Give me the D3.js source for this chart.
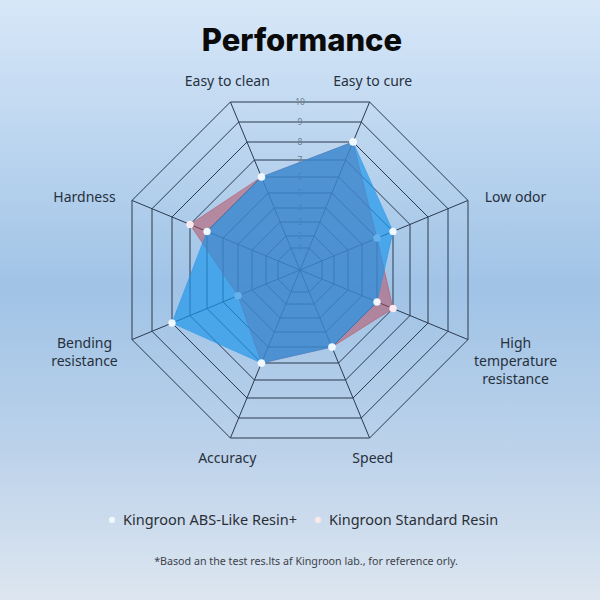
<!DOCTYPE html>
<html>
<head>
<meta charset="utf-8">
<script src="https://cdn.jsdelivr.net/npm/d3@7"></script>
<style>
  html, body { margin: 0; padding: 0; }
  body { width: 600px; height: 600px; overflow: hidden; }
</style>
</head>
<body>
<script>
// axis names, clockwise from the top-left spoke
const categories = ["Easy to clean", "Easy to cure", "Low odor", "High temperature resistance",
  "Speed", "Accuracy", "Bending resistance", "Hardness"];
const labelLines = [["Easy to clean"], ["Easy to cure"], ["Low odor"], ["High", "temperature", "resistance"],
  ["Speed"], ["Accuracy"], ["Bending", "resistance"], ["Hardness"]];
const seriesNames = ["Kingroon ABS-Like Resin+", "Kingroon Standard Resin"];
const absValues = [6, 8, 6, 5, 5, 6, 8, 6];
const standardValues = [6, 8, 5, 6, 5, 6, 4, 7];
const ticks = [1, 2, 3, 4, 5, 6, 7, 8, 9, 10];

const width = 600, height = 600;
const cx = 300, cy = 270;
const n = categories.length;

const svg = d3.select("body").append("svg")
    .attr("width", width)
    .attr("height", height)
    .style("font-family", "'Noto Sans', sans-serif");

// background gradient
const defs = svg.append("defs");
const grad = defs.append("linearGradient")
    .attr("id", "bg").attr("x1", 0).attr("y1", 0).attr("x2", 0).attr("y2", 1);
grad.append("stop").attr("offset", "0%").attr("stop-color", "#d7e7f8");
grad.append("stop").attr("offset", "48%").attr("stop-color", "#a0c3e6");
grad.append("stop").attr("offset", "75%").attr("stop-color", "#bcd2ea");
grad.append("stop").attr("offset", "100%").attr("stop-color", "#dde6f0");
svg.append("rect").attr("width", width).attr("height", height).attr("fill", "url(#bg)");

// title
svg.append("text")
    .attr("x", cx + 2).attr("y", 51)
    .attr("text-anchor", "middle")
    .style("font-family", "Inter, sans-serif")
    .style("font-weight", 800)
    .style("font-size", "31px")
    .attr("fill", "#0a0a0a")
    .text("Performance");

// the rings of the original are not evenly spaced; distance to each ring's flat edge
const apothem = d3.scaleLinear()
    .domain([0, 1, 2, 3, 4, 5, 6, 7, 8, 9, 10])
    .range([0, 22, 34, 48, 62, 77, 93, 110, 128, 148, 168]);
const r = v => apothem(v) / Math.cos(Math.PI / n);
const angle = d3.scaleLinear().domain([0, n]).range([-Math.PI / n, 2 * Math.PI - Math.PI / n]);

const g = svg.append("g").attr("transform", "translate(" + cx + "," + cy + ")");

const ring = d3.lineRadial()
    .angle((d, i) => angle(i))
    .radius(d => r(d))
    .curve(d3.curveLinearClosed);

// grid rings
g.selectAll(".ring")
    .data(ticks)
  .enter().append("path")
    .attr("class", "ring")
    .attr("d", t => ring(categories.map(() => t)))
    .attr("fill", "none")
    .attr("stroke", "#2b3a4f")
    .attr("stroke-width", 1);

// spokes
g.selectAll(".spoke")
    .data(categories)
  .enter().append("line")
    .attr("class", "spoke")
    .attr("x1", 0).attr("y1", 0)
    .attr("x2", (d, i) => Math.sin(angle(i)) * r(10))
    .attr("y2", (d, i) => -Math.cos(angle(i)) * r(10))
    .attr("stroke", "#2b3a4f")
    .attr("stroke-width", 1);

// tick labels up the middle (small, the inner rings sit close together)
g.selectAll(".tick")
    .data(ticks)
  .enter().append("text")
    .attr("class", "tick")
    .attr("x", 0)
    .attr("y", t => -apothem(t))
    .attr("dy", "0.35em")
    .attr("text-anchor", "middle")
    .style("font-size", "8.5px")
    .attr("fill", "#6d7c8e")
    .text(t => t);

// category labels: side labels hug the spoke end, wrapped lines run away from the centre line
const labels = g.selectAll(".label")
    .data(labelLines)
  .enter().append("text")
    .attr("class", "label")
    .attr("text-anchor", "middle")
    .style("font-size", "14px")
    .attr("fill", "#27313d")
    .attr("transform", (d, i) => {
      const a = angle(i), s = Math.sin(a), c = Math.cos(a);
      const side = Math.abs(s) > 0.7;
      const x = s * 190 + (side ? Math.sign(s) * 40 : 0);
      const y = -c * (side ? 190 : 204);
      return "translate(" + x + "," + y + ")";
    });
labels.selectAll("tspan")
    .data((d, i) => {
      const up = Math.cos(angle(i)) > 0;
      return d.map((line, k) => ({ line, off: up ? k - (d.length - 1) : k }));
    })
  .enter().append("tspan")
    .attr("x", 0)
    .attr("y", d => d.off * 18)
    .attr("dy", "0.35em")
    .text(d => d.line);

// series: standard drawn first, ABS-like on top
const series = [
  { name: seriesNames[1], values: standardValues, fill: "rgb(185,70,85)", opacity: 0.5, dot: "#fbe9ee" },
  { name: seriesNames[0], values: absValues, fill: "rgb(30,150,235)", opacity: 0.68, dot: "#eef8ff" }
];

series.forEach(s => {
  const sg = g.append("g");
  sg.append("path")
      .attr("d", ring(s.values))
      .attr("fill", s.fill)
      .attr("fill-opacity", s.opacity)
      .attr("stroke", s.fill)
      .attr("stroke-opacity", 0.5)
      .attr("stroke-width", 1);
  sg.selectAll("circle")
      .data(s.values)
    .enter().append("circle")
      .attr("cx", (d, i) => Math.sin(angle(i)) * r(d))
      .attr("cy", (d, i) => -Math.cos(angle(i)) * r(d))
      .attr("r", 3.5)
      .attr("fill", s.dot)
      .attr("stroke", "#ffffff")
      .attr("stroke-opacity", 0.5)
      .attr("stroke-width", 0.8);
});

// legend
const legendX = [112, 318];
const legend = svg.selectAll(".legend")
    .data([series[1], series[0]])
  .enter().append("g")
    .attr("class", "legend")
    .attr("transform", (d, i) => "translate(" + legendX[i] + ",520)");
legend.append("circle")
    .attr("r", 3.5)
    .attr("fill", d => d.dot)
    .attr("stroke", "#c9d6e4")
    .attr("stroke-width", 0.6);
legend.append("text")
    .attr("x", 11)
    .attr("dy", "0.35em")
    .style("font-size", "14.5px")
    .attr("fill", "#2a2f36")
    .text(d => d.name);

// footnote
svg.append("text")
    .attr("x", 306).attr("y", 565)
    .attr("text-anchor", "middle")
    .style("font-size", "10.7px")
    .attr("fill", "#3d434b")
    .text("*Basod an the test res.lts af Kingroon lab., for reference orly.");
</script>
</body>
</html>
